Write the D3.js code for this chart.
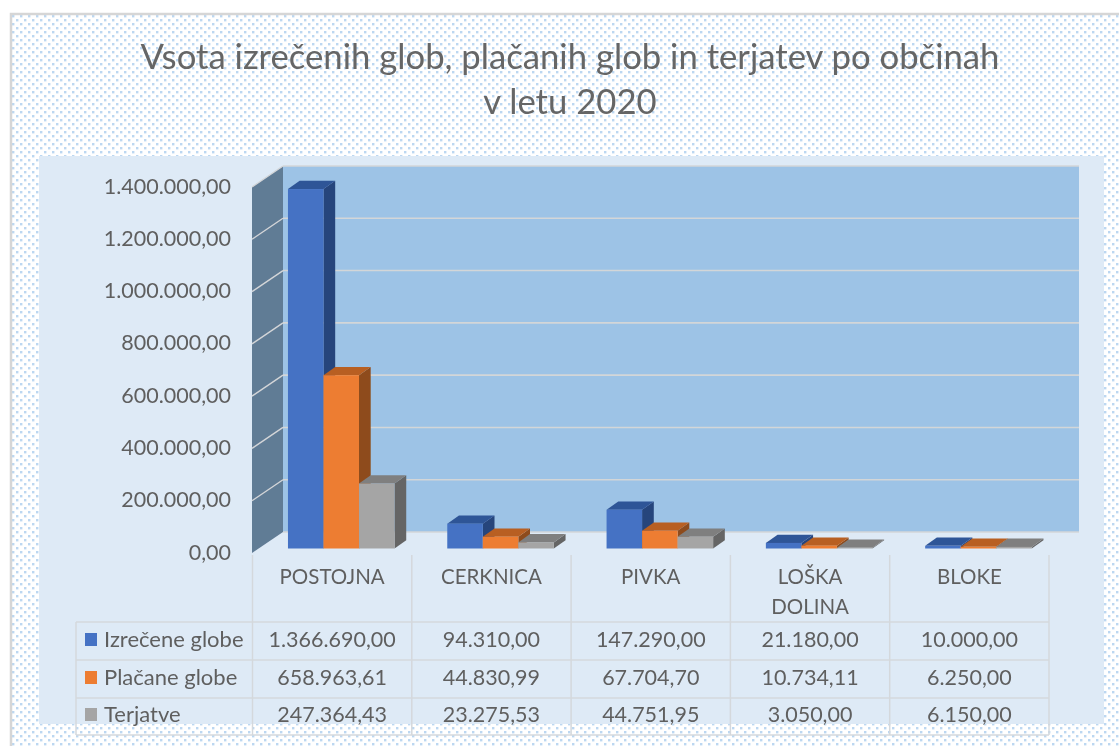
<!DOCTYPE html>
<html><head><meta charset="utf-8">
<script src="https://cdn.jsdelivr.net/npm/d3@7"></script>
<style>html,body{margin:0;padding:0;background:#fff;overflow:hidden}svg{display:block}text{font-family:Lato,"Open Sans",sans-serif}</style>
</head><body><svg id="c" width="1119" height="746"></svg>
<script>
const titleLines = ["Vsota izrečenih glob, plačanih glob in terjatev po občinah", "v letu 2020"];
const categories = ["POSTOJNA", "CERKNICA", "PIVKA", "LOŠKA DOLINA", "BLOKE"];
const seriesNames = ["Izrečene globe", "Plačane globe", "Terjatve"];
const izrecene = [1366690.00, 94310.00, 147290.00, 21180.00, 10000.00];
const placane = [658963.61, 44830.99, 67704.70, 10734.11, 6250.00];
const terjatve = [247364.43, 23275.53, 44751.95, 3050.00, 6150.00];
const yTicks = [0, 200000, 400000, 600000, 800000, 1000000, 1200000, 1400000];
const frontColors = ["#4472C4", "#ED7D31", "#A5A5A5"];
const topColors = ["#2F5597", "#B85F21", "#7F7F7F"];
const sideColors = ["#27457C", "#8E4C1D", "#656565"];

const seriesValues = [izrecene, placane, terjatve];
const fmt = d3.formatLocale({decimal: ",", thousands: ".", grouping: [3], currency: ["", ""]}).format(",.2f");
const TXT = "#5f5f5f", LINE = "#d4d8dc";

const svg = d3.select("#c");
const defs = svg.append("defs");
const pat = defs.append("pattern").attr("id", "dots").attr("width", 8).attr("height", 8).attr("patternUnits", "userSpaceOnUse").attr("x", 12).attr("y", 15);
pat.append("rect").attr("width", 8).attr("height", 8).attr("fill", "#ffffff");
[[0, 0], [4, 4]].forEach(p => pat.append("rect").attr("x", p[0]).attr("y", p[1]).attr("width", 2.4).attr("height", 2.4).attr("fill", "#bcd7f1"));
defs.append("filter").attr("id", "soft").attr("x", 0).attr("y", 0).attr("width", 1).attr("height", 1)
  .append("feGaussianBlur").attr("stdDeviation", 0.7);

const root = svg.append("g").attr("filter", "url(#soft)");
root.append("rect").attr("width", 1119).attr("height", 746).attr("fill", "#fff");
root.append("rect").attr("x", 11).attr("y", 14).attr("width", 1120).attr("height", 740).attr("fill", "url(#dots)").attr("stroke", "#d6d6d6").attr("stroke-width", 2.5);
root.append("rect").attr("x", 39).attr("y", 156).attr("width", 1065).attr("height", 568).attr("fill", "#DEEAF6");

root.selectAll("text.title").data(titleLines).join("text").attr("class", "title")
  .attr("x", 570).attr("y", (d, i) => 69 + i * 45).attr("text-anchor", "middle")
  .attr("font-size", 34.7).attr("fill", "#666").text(d => d);

// Depth offsets of the 3D projection
const wallDx = 31, wallDy = 21, barDx = 11.7, barDy = 8.3;
const y = d3.scaleLinear().domain([0, 1400000]).range([553, 187]);
const barY = d3.scaleLinear().domain([0, 1400000]).range([548.5, 180.3]);
const tableX = d3.scaleBand().domain(categories).range([252.5, 1049]);
const groupX = d3.scaleBand().domain(categories).range([261.6, 1058.1]).paddingInner(0.331).paddingOuter(0.1655);
const innerX = d3.scaleBand().domain(seriesNames).range([0, groupX.bandwidth()]);
const wallR = 1079;

// Walls
root.append("rect").attr("x", 283).attr("y", y(1400000) - wallDy).attr("width", wallR - 283).attr("height", y(0) - y(1400000)).attr("fill", "#9DC3E6");
root.append("path").attr("fill", "#617B95")
  .attr("d", d3.line()([[252, y(0)], [283, y(0) - wallDy], [283, y(1400000) - wallDy], [252, y(1400000)]]));
root.selectAll("line.g").data(yTicks).join("line").attr("class", "g")
  .attr("x1", 283).attr("x2", wallR).attr("y1", d => y(d) - wallDy).attr("y2", d => y(d) - wallDy)
  .attr("stroke", "#d3d6d8").attr("stroke-width", 1.6);
root.selectAll("line.gs").data(yTicks.slice(1)).join("line").attr("class", "gs")
  .attr("x1", 252).attr("x2", 283).attr("y1", d => y(d)).attr("y2", d => y(d) - wallDy)
  .attr("stroke", "#d3d6d8").attr("stroke-width", 1.4);

// Y labels
root.selectAll("text.yl").data(yTicks).join("text").attr("class", "yl")
  .attr("x", 231).attr("y", d => y(d) + 6.5).attr("text-anchor", "end")
  .attr("font-size", 21.5).attr("fill", TXT).text(d => fmt(d));

// Bars
categories.forEach((c, ci) => {
  seriesNames.forEach((s, si) => {
    const v = seriesValues[si][ci];
    const x0 = groupX(c) + innerX(s), w = innerX.bandwidth(), yt = barY(v), yb = barY(0);
    const g = root.append("g");
    g.append("path").attr("fill", sideColors[si])
      .attr("d", d3.line()([[x0 + w, yt], [x0 + w + barDx, yt - barDy], [x0 + w + barDx, yb - barDy], [x0 + w, yb]]));
    g.append("path").attr("fill", topColors[si])
      .attr("d", d3.line()([[x0, yt], [x0 + barDx, yt - barDy], [x0 + w + barDx, yt - barDy], [x0 + w, yt]]));
    g.append("rect").attr("x", x0).attr("y", yt).attr("width", w).attr("height", yb - yt).attr("fill", frontColors[si]);
  });
});

// Data table
const rowLines = [622, 660, 698, 735];
const rowMid = [640, 678, 715];
const colEdges = categories.map(c => tableX(c)).concat([tableX.range()[1]]);
colEdges.forEach(x => root.append("line").attr("x1", x).attr("x2", x).attr("y1", 555).attr("y2", 735).attr("stroke", LINE).attr("stroke-width", 1.5));
root.append("line").attr("x1", 76).attr("x2", 76).attr("y1", 622).attr("y2", 735).attr("stroke", LINE).attr("stroke-width", 1.5);
rowLines.forEach(yy => root.append("line").attr("x1", 76).attr("x2", 1049).attr("y1", yy).attr("y2", yy).attr("stroke", LINE).attr("stroke-width", 1.5));

categories.forEach(c => {
  const cx = tableX(c) + tableX.bandwidth() / 2;
  const words = c === "LOŠKA DOLINA" ? c.split(" ") : [c];
  words.forEach((w, i) => root.append("text").attr("x", cx).attr("y", 584 + i * 29.5).attr("text-anchor", "middle")
    .attr("font-size", 20.5).attr("fill", TXT).text(w));
});
seriesNames.forEach((s, si) => {
  root.append("rect").attr("x", 85).attr("y", rowMid[si] - 7).attr("width", 12).attr("height", 13).attr("fill", frontColors[si]);
  root.append("text").attr("x", 104).attr("y", rowMid[si] + 6.5).attr("font-size", 22).attr("fill", TXT).text(s);
  categories.forEach((c, ci) => root.append("text")
    .attr("x", tableX(c) + tableX.bandwidth() / 2).attr("y", rowMid[si] + 6.5).attr("text-anchor", "middle")
    .attr("font-size", 21.5).attr("fill", TXT).text(fmt(seriesValues[si][ci])));
});
</script></body></html>
